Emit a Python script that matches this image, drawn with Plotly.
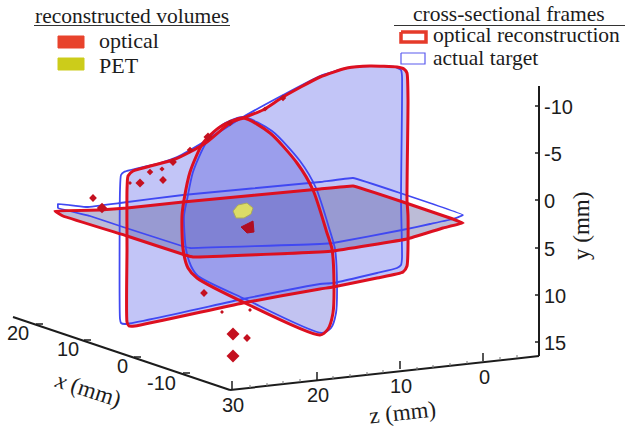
import plotly.graph_objects as go

SERIF = "Liberation Serif"
SANS = "Liberation Sans"
INK = "#1c1c1c"
RED = "#dd1020"
BLUE = "#4048f2"

# Image-plane outlines of the three cross-sections
BIG_RED_X = [127, 128, 133, 173, 190, 207, 230, 243, 263, 283, 320, 347, 370, 397, 404, 407, 408, 407, 408, 407, 403, 377, 333, 320, 243, 135, 129, 127, 127, 127]
BIG_RED_Y = [190, 176, 171, 160, 152, 142, 123, 118, 110, 97, 77, 68, 66, 67, 69, 73, 100, 200, 216, 266, 272, 278, 287, 289, 303, 326, 326, 322, 250, 190]
BIG_BLUE_X = [120, 121, 124, 160, 177, 207, 243, 283, 320, 347, 370, 395, 401, 402, 401, 402, 401, 397, 377, 333, 320, 243, 125, 121, 120, 120]
BIG_BLUE_Y = [190, 175, 172, 163, 157, 140, 117, 95, 76, 68, 66, 67, 70, 76, 200, 258, 265, 268, 273, 283, 284, 299, 324, 323, 319, 190]

FLAT_RED_X = [55, 100, 127, 183, 320, 353, 403, 447, 463, 443, 407, 333, 320, 193, 185, 127, 63, 55]
FLAT_RED_Y = [211, 210, 208, 202, 189, 186, 202, 217, 223, 228, 239, 251, 252, 257, 255, 236, 216, 211]
FLAT_BLUE_X = [58, 87, 120, 183, 320, 353, 400, 463, 453, 430, 402, 333, 320, 190, 182, 123, 90, 58, 58]
FLAT_BLUE_Y = [204, 207, 203, 195, 182, 178, 193, 215, 219, 224, 230, 243, 244, 248, 246, 227, 216, 208, 204]

LENS_RED_X = [243, 270, 297, 313, 327, 332, 334, 333, 328, 320, 245, 197, 188, 183, 182, 184, 190, 203, 220, 243]
LENS_RED_Y = [118, 133, 163, 190, 233, 249, 283, 313, 329, 335, 303, 278, 268, 249, 216, 200, 172, 143, 127, 118]
LENS_BLUE_X = [243, 272, 300, 316, 330, 335, 337, 336, 331, 322, 245, 198, 191, 186, 184, 187, 193, 206, 222, 243]
LENS_BLUE_Y = [117, 131, 161, 188, 231, 249, 283, 313, 328, 333, 299, 276, 266, 249, 216, 200, 172, 143, 125, 117]

# Reconstructed volumes
PET_X = [233, 238, 247, 253, 251, 244, 236, 233]
PET_Y = [211, 205, 203, 208, 214, 218, 218, 211]
TUMOR_X = [241, 253, 254, 247, 241]
TUMOR_Y = [227, 221, 232, 233, 227]
SPECK_X = [140, 130, 150, 162, 163, 93, 102, 173, 190, 208, 230, 265, 283, 204, 222, 250, 233, 247, 233]
SPECK_Y = [183, 183, 172, 169, 180, 198, 208, 162, 150, 137, 123, 109, 98, 293, 312, 310, 334, 338, 356]
SPECK_SIZE = [7, 3, 5, 4, 6, 6, 8, 6, 5, 7, 5, 4, 5, 6, 3, 3, 10, 6, 10]

# Axes
AX_Y_X = [539, 539]
AX_Y_Y = [86, 356]
AX_Z_X = [539, 230]
AX_Z_Y = [356, 390]
AX_X_X = [230, 13]
AX_X_Y = [390, 317]

Y_LABELS = ["-10", "-5", "0", "5", "10", "15"]
Y_TICK_POS = [106, 153, 200, 248, 295, 342]
Z_LABELS = ["0", "10", "20", "30"]
Z_TICK_X = [483, 400, 317, 232]
Z_TICK_Y = [361, 369, 380, 389]
Z_LABEL_Y = [376, 385, 394, 404]
Z_MINOR_X = [517, 500, 467, 450, 433, 417, 383, 367, 350, 333, 300, 283, 267, 250]
Z_MINOR_Y = [358, 360, 364, 366, 368, 370, 373, 375, 377, 379, 382, 384, 386, 388]
X_LABELS = ["20", "10", "0", "-10"]
X_TICK_X = [40, 88, 138, 187]
X_TICK_Y = [326, 342, 359, 375]
X_LABEL_X = [18, 68, 122, 161]
X_LABEL_Y = [333, 349, 366, 383]

fig = go.Figure()


def line(xs, ys, color=INK, width=1.5, fill=None, smooth=0):
    shape = dict(shape="spline", smoothing=smooth) if smooth else dict(shape="linear")
    fig.add_trace(go.Scatter(
        x=xs, y=ys, mode="lines", line=dict(color=color, width=width, **shape),
        fill="toself" if fill else None, fillcolor=fill, hoverinfo="skip",
    ))


def text(x, y, s, size=17, family=SANS, angle=0, anchor="center"):
    fig.add_annotation(
        x=x, y=y, text=s, showarrow=False, textangle=angle, xanchor=anchor, yanchor="middle",
        font=dict(family=family, size=size, color=INK),
    )


# plane fills, lighter ones first
line(BIG_RED_X, BIG_RED_Y, color="rgba(0,0,0,0)", width=0, fill="rgba(75,85,232,0.34)", smooth=0.5)
line(FLAT_RED_X, FLAT_RED_Y, color="rgba(0,0,0,0)", width=0, fill="rgba(95,95,160,0.42)", smooth=0.2)
line(LENS_RED_X, LENS_RED_Y, color="rgba(0,0,0,0)", width=0, fill="rgba(85,90,215,0.36)", smooth=0.7)

for xs, ys, sm in [(BIG_BLUE_X, BIG_BLUE_Y, 0.5), (FLAT_BLUE_X, FLAT_BLUE_Y, 0.2), (LENS_BLUE_X, LENS_BLUE_Y, 0.7)]:
    line(xs, ys, color=BLUE, width=1.8, smooth=sm)
for xs, ys, sm in [(BIG_RED_X, BIG_RED_Y, 0.5), (FLAT_RED_X, FLAT_RED_Y, 0.2), (LENS_RED_X, LENS_RED_Y, 0.7)]:
    line(xs, ys, color=RED, width=3, smooth=sm)

line(PET_X, PET_Y, color="#a8a860", width=1, fill="#dcdc66")
line(TUMOR_X, TUMOR_Y, color="#b00d22", width=1, fill="#b00d22")
fig.add_trace(go.Scatter(
    x=SPECK_X, y=SPECK_Y, mode="markers", hoverinfo="skip",
    marker=dict(color="#c4101f", size=SPECK_SIZE, line_width=0, opacity=1, symbol="diamond"),
))

# legends
line([34, 230], [25.5, 25.5], color="#333333", width=1)
line([394, 625], [25.5, 25.5], color="#333333", width=1)
line([58, 84, 84, 58, 58], [36, 36, 48, 48, 36], color="#e8432c", width=1, fill="#e8432c")
line([58, 84, 84, 58, 58], [58, 58, 70, 70, 58], color="#cccc1a", width=1, fill="#cccc1a")
line([401, 426, 426, 401, 401], [32, 32, 42, 42, 32], color="#e53a2a", width=3.5)
line([401, 425, 425, 401, 401], [53, 53, 64, 64, 53], color="#5a5aee", width=1.2)
text(132, 16, "reconstructed volumes", size=21.5, family=SERIF)
text(97, 40, "optical", size=22, family=SERIF, anchor="left")
text(97, 65, "PET", size=22, family=SERIF, anchor="left")
text(509, 14, "cross-sectional frames", size=21.5, family=SERIF)
text(431, 35, "optical reconstruction", size=21.5, family=SERIF, anchor="left")
text(431, 58, "actual target", size=21.5, family=SERIF, anchor="left")

# axes
line(AX_Y_X, AX_Y_Y, width=2)
line(AX_Z_X, AX_Z_Y, width=2)
line(AX_X_X, AX_X_Y, width=2)
for lab, p in zip(Y_LABELS, Y_TICK_POS):
    line([535, 539], [p, p], width=1.5)
    text(542, p + 1, lab, anchor="left", size=20)
for lab, tx, ty, ly in zip(Z_LABELS, Z_TICK_X, Z_TICK_Y, Z_LABEL_Y):
    line([tx, tx], [ty - 8, ty], width=1.5)
    text(tx + 1, ly + 1, lab, size=20)
for tx, ty in zip(Z_MINOR_X, Z_MINOR_Y):
    line([tx, tx], [ty - 3, ty], color="#777777", width=1)
for lab, tx, ty, lx, ly in zip(X_LABELS, X_TICK_X, X_TICK_Y, X_LABEL_X, X_LABEL_Y):
    line([tx - 4, tx + 3], [ty - 2, ty - 2], width=1.5)
    text(lx, ly, lab, size=20)

text(581, 226, "y (mm)", size=23, family=SERIF, angle=-90)
text(402, 412, "z (mm)", size=23, family=SERIF, angle=-6)
text(88, 389, "<i>x</i> (mm)", size=23, family=SERIF, angle=18)

fig.update_layout(
    width=633, height=432, margin=dict(l=0, r=0, t=0, b=0),
    paper_bgcolor="white", plot_bgcolor="white", showlegend=False,
    xaxis=dict(range=[0, 633], visible=False, fixedrange=True),
    yaxis=dict(range=[432, 0], visible=False, fixedrange=True),
)
fig.write_html("out.html", config=dict(displayModeBar=False),
               post_script="document.body.style.margin='0';")
